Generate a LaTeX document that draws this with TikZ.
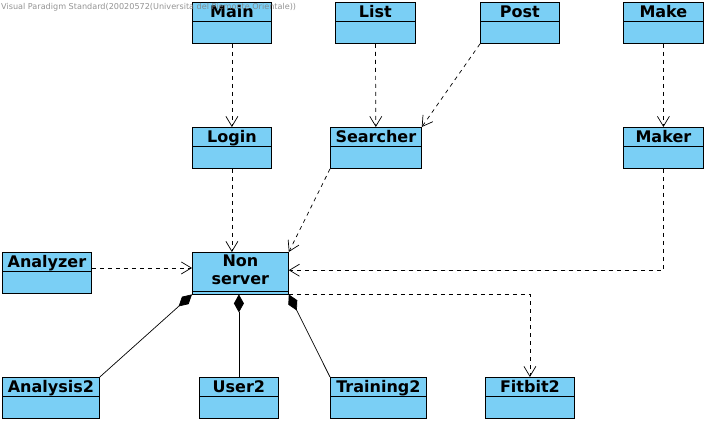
\documentclass[tikz,border=0pt]{standalone}
\usepackage{fontspec}
\newfontfamily\vpfont{DejaVu Sans}
\usetikzlibrary{arrows.meta,shapes.multipart}
\definecolor{vpblue}{RGB}{122,207,245}
\tikzset{
  cls/.style={rectangle split, rectangle split parts=2, draw, fill=vpblue, line width=0.8pt,
    anchor=north west, inner xsep=1pt, inner ysep=1.5pt, text height=13pt, text depth=2.5pt,
    rectangle split empty part height=18pt, rectangle split empty part depth=0pt,
    font=\vpfont\bfseries\fontsize{16}{18}\selectfont},
  dep/.style={line width=0.7pt, dash pattern=on 4pt off 4pt, -{Straight Barb[length=10pt,width=12pt]}},
  comp/.style={line width=0.7pt, {Diamond[length=18pt,width=10pt]}-}
}

\begin{document}
\begin{tikzpicture}[x=1pt,y=-1pt]
  \useasboundingbox (0,0) rectangle (707,421);

    \draw (192,2) node[cls, minimum width=79pt] (main) {Main \nodepart{two}};
    \draw (335,2) node[cls, minimum width=80pt] (list) {List \nodepart{two}};
    \draw (480,2) node[cls, minimum width=79pt] (post) {Post \nodepart{two}};
    \draw (623,2) node[cls, minimum width=80pt] (make) {Make \nodepart{two}};

    \draw (192,127) node[cls, minimum width=79pt] (login) {Login \nodepart{two}};
    \draw (330,127) node[cls, minimum width=91pt] (searcher) {Searcher \nodepart{two}};
    \draw (623,127) node[cls, minimum width=80pt] (maker) {Maker \nodepart{two}};

    \draw (2,252) node[cls, minimum width=89pt] (analyzer) {Analyzer \nodepart{two}};
    \draw (192,252) node[cls, minimum width=96pt, text height=, text depth=, inner ysep=1pt] (non)
      {\begin{tabular}[t]{@{}c@{}}Non\\server\end{tabular} \nodepart{two}\hspace*{0.1pt}};

    \draw (2,377) node[cls, minimum width=97pt] (analysis) {Analysis2 \nodepart{two}};
    \draw (199,377) node[cls, minimum width=79pt] (user) {User2 \nodepart{two}};
    \draw (330,377) node[cls, minimum width=96pt] (training) {Training2 \nodepart{two}};
    \draw (485,377) node[cls, minimum width=89pt] (fitbit) {Fitbit2 \nodepart{two}};

    % dependencies
    \path[dep] (main) edge (login);
    \path[dep] (list) edge (searcher);
    \path[dep] (make) edge (maker);
    \draw[dep] (post.south west) -- (searcher.north east);
    \draw[dep] (login.south) -- (login.south |- non.north);
    \draw[dep] (searcher.south west) -- (non.north east);
    \draw[dep] ([yshift=5pt]analyzer.east) -- ([yshift=5pt]analyzer.east -| non.west);
    \draw[dep] (maker.south) |- ([yshift=3pt]non.east);
    \draw[dep] (non.south east) -| (fitbit.north);

    % compositions
    \draw[comp] (non.south west) -- (analysis.north east);
    \draw[comp] (user.north |- non.south) -- (user.north);
    \draw[comp] (non.south east) -- (training.north west);

    \node[anchor=north west, inner sep=0pt, text=gray, opacity=0.85, font=\vpfont\fontsize{8.1}{9}\selectfont]
      (mark) at (1,3) {Visual Paradigm Standard(20020572(Universita del Piemonte Orientale))};
\end{tikzpicture}
\end{document}
